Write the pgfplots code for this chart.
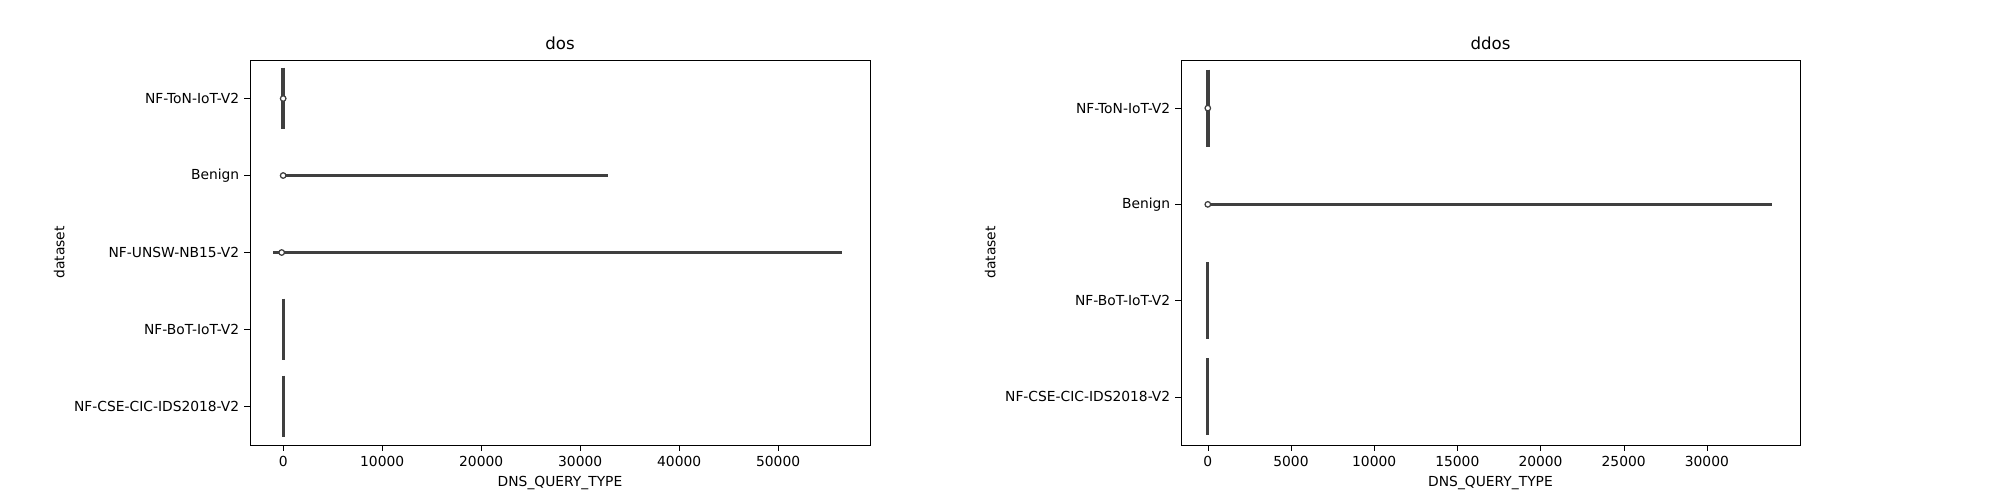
\documentclass[border=0pt]{standalone}
\usepackage{pgfplots}
\pgfplotsset{compat=1.18}
\usepackage{fontspec}
\setmainfont{DejaVu Sans}
\definecolor{vg}{HTML}{3F3F3F}
\pgfplotsset{vp/.style={scale only axis, y dir=reverse, ymin=-0.5, ymax=4.5,
  /pgf/number format/assume math mode=true, font=\fontsize{10}{12}\selectfont,
  tick align=outside, tick pos=left, xtick style={black}, ytick style={black},
  scaled x ticks=false, xticklabel style={/pgf/number format/.cd, fixed, 1000 sep={}},
  title style={font=\fontsize{12}{14}\selectfont, yshift=-2pt},
  xlabel={DNS\_QUERY\_TYPE}, ylabel={dataset}, ytick=data, axis line style={black}},
  vl/.style={vg, line width=2.6pt, no marks},
  hl/.style={vg, line width=1.9pt, no marks},
  md/.style={only marks, mark=*, mark size=2pt, mark options={fill=white, draw=vg, line width=0.9pt}}}
\begin{document}
\begin{tikzpicture}
\path (0,0) rectangle (20in,5in);
\begin{axis}[vp, at={(2.5in,0.55in)}, anchor=south west, width=6.2in, height=3.85in,
  xmin=-3351, xmax=59278, xtick={0,10000,20000,30000,40000,50000},
  ytick={0,1,2,3,4}, yticklabels={NF-ToN-IoT-V2,Benign,NF-UNSW-NB15-V2,NF-BoT-IoT-V2,NF-CSE-CIC-IDS2018-V2},
  title={dos}]
\addplot[vl] coordinates {(0,-0.4) (0,0.4)};
\addplot[hl] coordinates {(0,1) (32800,1)};
\addplot[hl] coordinates {(-1000,2) (56400,2)};
\addplot[vl, line width=2pt] coordinates {(0,2.6) (0,3.4)};
\addplot[vl, line width=2pt] coordinates {(0,3.6) (0,4.4)};
\addplot[md] coordinates {(0,0) (0,1) (-150,2)};
\end{axis}
\begin{axis}[vp, at={(11.81in,0.55in)}, anchor=south west, width=6.19in, height=3.85in,
  xmin=-1611, xmax=35600, xtick={0,5000,10000,15000,20000,25000,30000},
  ymax=3.5,
  ytick={0,1,2,3}, yticklabels={NF-ToN-IoT-V2,Benign,NF-BoT-IoT-V2,NF-CSE-CIC-IDS2018-V2},
  title={ddos}]
\addplot[vl] coordinates {(0,-0.4) (0,0.4)};
\addplot[hl] coordinates {(0,1) (33900,1)};
\addplot[vl, line width=2pt] coordinates {(0,1.6) (0,2.4)};
\addplot[vl, line width=2pt] coordinates {(0,2.6) (0,3.4)};
\addplot[md] coordinates {(0,0) (0,1)};
\end{axis}
\end{tikzpicture}
\end{document}
